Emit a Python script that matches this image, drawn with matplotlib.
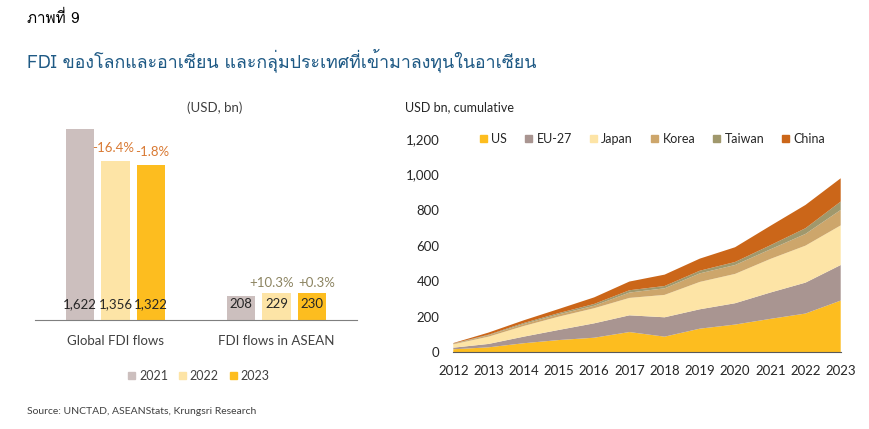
import numpy as np
from matplotlib import pyplot as plt
from matplotlib import font_manager, ft2font
from matplotlib.patches import Patch

# bar chart data (USD bn)
bar_groups = ['Global FDI flows', 'FDI flows in ASEAN']
bar_years = ['2021', '2022', '2023']
global_fdi = [1622, 1356, 1322]
asean_fdi = [208, 229, 230]
global_growth = ['', '-16.4%', '-1.8%']
asean_growth = ['', '+10.3%', '+0.3%']

# cumulative FDI into ASEAN by source (USD bn)
years = np.arange(2012, 2024)
sources = ['US', 'EU-27', 'Japan', 'Korea', 'Taiwan', 'China']
us = [17, 28, 51, 69, 82, 114, 88, 133, 156, 188, 218, 291]
eu27 = [9, 19, 37, 57, 81, 94, 109, 109, 120, 148, 174, 200]
japan = [19, 41, 60, 75, 85, 98, 126, 154, 165, 189, 208, 223]
korea = [3, 8, 11, 13, 14, 30, 37, 48, 50, 54, 66, 87]
taiwan = [2, 3, 6, 7, 10, 13, 13, 15, 17, 23, 32, 47]
china = [2, 12, 15, 23, 37, 49, 64, 68, 83, 109, 131, 131]

bar_colors = ['#CCBFBE', '#FDE4A6', '#FDBD1F']
area_colors = ['#FDBD1F', '#A99591', '#FDE4A6', '#CDA66B', '#A0986C', '#CB6619']
text_color = '#404040'


def find_thai_font():
    """
    Looks for an installed font that has Thai glyphs.
    """
    for f in font_manager.fontManager.ttflist:
        try:
            cmap = ft2font.FT2Font(f.fname).get_charmap()
        except Exception:
            continue
        if 0x0E20 in cmap and 0x0E01 in cmap:
            return f.name
    return 'DejaVu Sans'


thai_font = find_thai_font()
plt.rcParams['font.family'] = ['Lato', thai_font, 'DejaVu Sans']

fig = plt.figure(figsize=(8.7, 4.29), dpi=100)

fig.text(27/870, 1-18/429, 'ภาพที่ 9', fontsize=11, color='black', va='center',
         family=[thai_font, 'DejaVu Sans'])
fig.text(27/870, 1-60/429, 'FDI ของโลกและอาเซียน และกลุ่มประเทศที่เข้ามาลงทุนในอาเซียน',
         fontsize=12.8, color='#1F5A85', va='center', family=[thai_font, 'DejaVu Sans'])

# left: bar chart
ax1 = fig.add_axes([35/870, 1-320/429, 322/870, 199.7/429])
x = np.arange(len(bar_groups))
width = 0.175
pitch = 0.221
# small sideways nudges (points) so the growth labels do not collide
nudge = {'-16.4%': -1.5, '-1.8%': 0.5, '+10.3%': -3.5, '+0.3%': 3.5}
for i, yr in enumerate(bar_years):
    vals = [global_fdi[i], asean_fdi[i]]
    bars = ax1.bar(x + (i-1)*pitch, vals, width, color=bar_colors[i], label=yr)
    for b, v, g, gc in zip(bars, vals, [global_growth[i], asean_growth[i]], ['#D97A34', '#8C8461']):
        cx = b.get_x() + b.get_width()/2
        ax1.annotate('{:,}'.format(v), (cx, 0), xytext=(0, 11.5), textcoords='offset points',
                     ha='center', va='center', fontsize=9.5, color='#262626')
        if g:
            ax1.annotate(g, (cx, v), xytext=(nudge[g], 9 if v > 1000 else 7),
                         textcoords='offset points', ha='center', va='center',
                         fontsize=9.5, color=gc)

ax1.set_xlim(-0.5, 1.5)
ax1.set_ylim(0, 1700)
ax1.set_xticks(x)
ax1.set_xticklabels(bar_groups, fontsize=9.5, color=text_color)
ax1.tick_params(axis='x', length=0, pad=11)
ax1.set_yticks([])
for s in ['top', 'right', 'left']:
    ax1.spines[s].set_visible(False)
ax1.spines['bottom'].set_color('#7F7F7F')
fig.text(215/870, 1-108/429, '(USD, bn)', fontsize=9.5, color=text_color, ha='center', va='center')

fig.legend(handles=[Patch(color=c, label=l) for c, l in zip(bar_colors, bar_years)],
           loc='center', bbox_to_anchor=(199/870, 1-376/429), ncol=3, frameon=False,
           fontsize=9, handlelength=0.55, handleheight=0.55, handletextpad=0.3,
           columnspacing=0.9, labelcolor=text_color)

# right: stacked area chart
ax2 = fig.add_axes([453.3/870, 1-352.3/429, 387.4/870, 213.3/429])
ax2.stackplot(years, us, eu27, japan, korea, taiwan, china, colors=area_colors,
              labels=sources, linewidth=0)
ax2.set_xlim(2012, 2023)
ax2.set_ylim(0, 1200)
ax2.set_xticks(years)
ax2.set_yticks(np.arange(0, 1201, 200))
ax2.set_yticklabels(['{:,}'.format(v) for v in range(0, 1201, 200)])
ax2.tick_params(axis='both', length=0, labelsize=9.5, labelcolor='#262626')
ax2.tick_params(axis='y', pad=10)
ax2.tick_params(axis='x', pad=9)
for s in ['top', 'right', 'left']:
    ax2.spines[s].set_visible(False)
ax2.spines['bottom'].set_color('#595959')
ax2.legend(handles=[Patch(color=c, label=l) for c, l in zip(area_colors, sources)],
           loc='center', bbox_to_anchor=(0.515, 1.0), ncol=6, frameon=False,
           fontsize=9, handlelength=0.55, handleheight=0.55, handletextpad=0.35,
           columnspacing=1.45, labelcolor='#262626')
fig.text(405/870, 1-107/429, 'USD bn, cumulative', fontsize=9, color='#262626', va='center')

fig.text(27/870, 1-412/429, 'Source: UNCTAD, ASEANStats, Krungsri Research', fontsize=7.5,
         color=text_color, va='center')

plt.savefig('out.png', dpi=100)
